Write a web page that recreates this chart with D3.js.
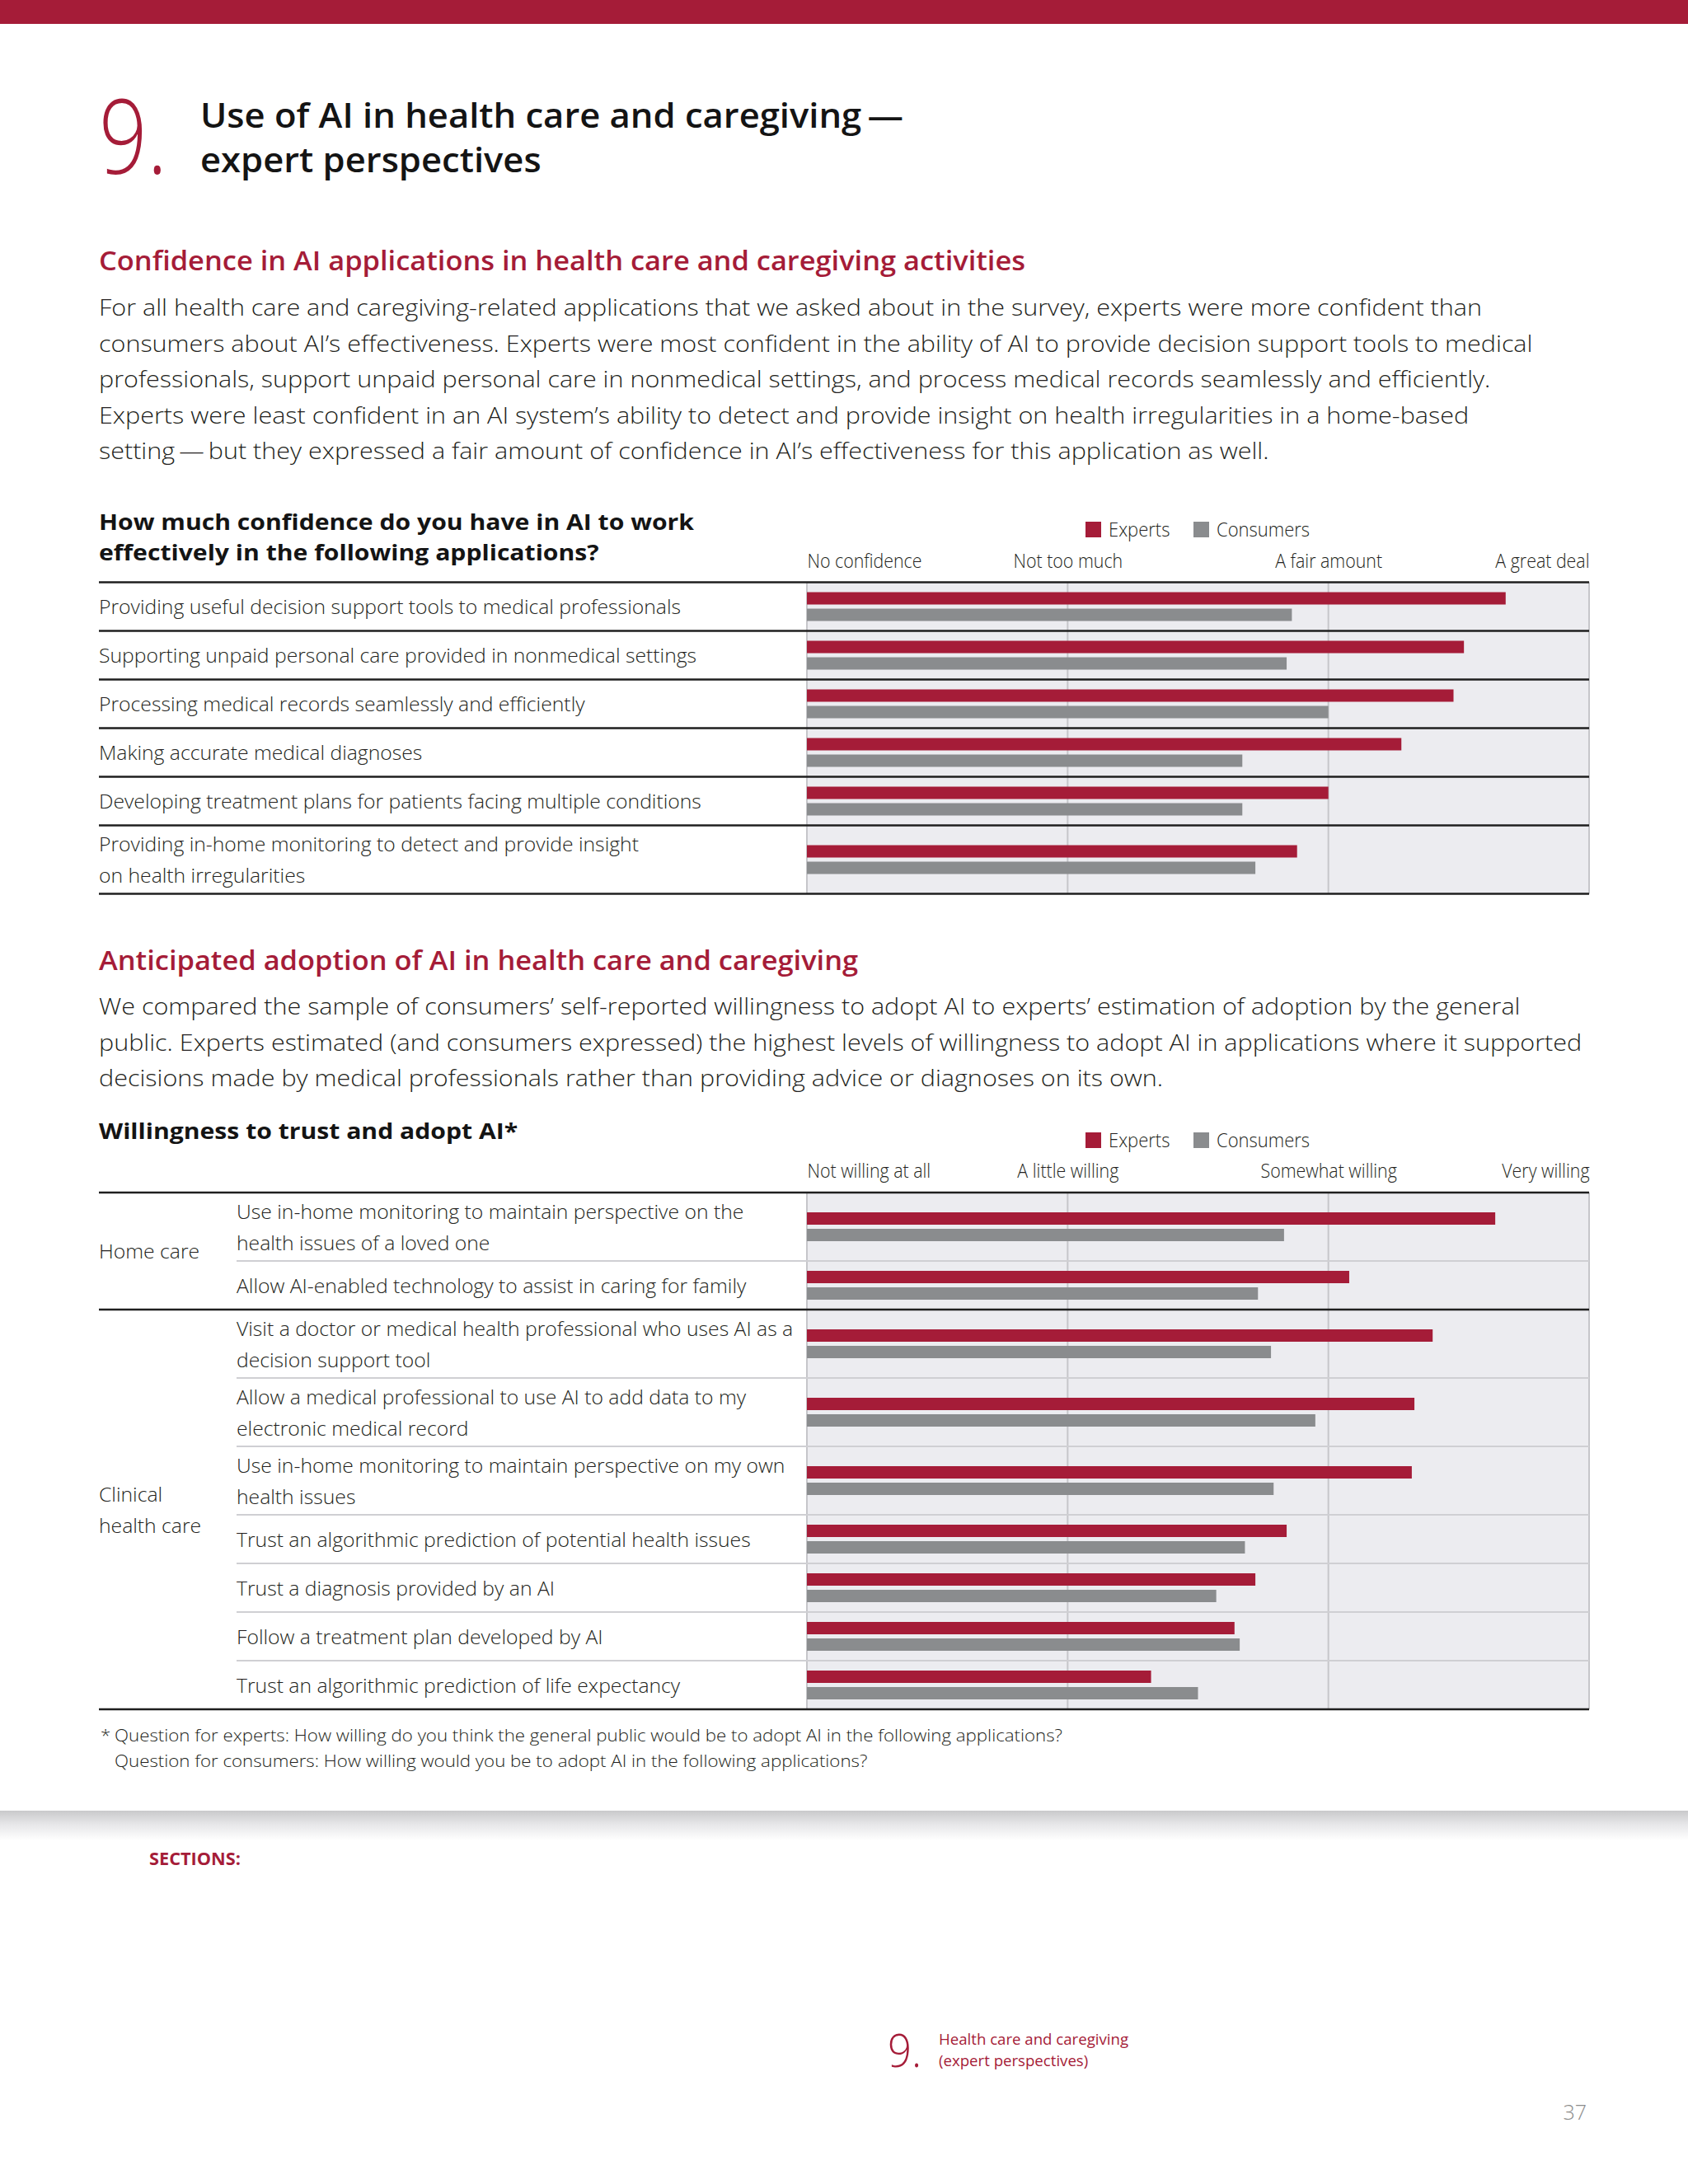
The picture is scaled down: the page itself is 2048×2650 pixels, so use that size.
<!DOCTYPE html>
<html>
<head>
<meta charset="utf-8">
<script src="https://cdn.jsdelivr.net/npm/d3@7"></script>
<style>
  body { margin: 0; background: #fff; }
</style>
</head>
<body>
<svg id="page"></svg>
<script>
// ---- data ----
const seriesNames = ["Experts", "Consumers"];

const confidenceApps = [
  "Providing useful decision support tools to medical professionals",
  "Supporting unpaid personal care provided in nonmedical settings",
  "Processing medical records seamlessly and efficiently",
  "Making accurate medical diagnoses",
  "Developing treatment plans for patients facing multiple conditions",
  "Providing in-home monitoring to detect and provide insight\non health irregularities"
];
// 0 = No confidence ... 3 = A great deal
const confidenceExperts   = [2.68, 2.52, 2.48, 2.28, 2.00, 1.88];
const confidenceConsumers = [1.86, 1.84, 2.00, 1.67, 1.67, 1.72];
const confidenceTicks = ["No confidence", "Not too much", "A fair amount", "A great deal"];

const adoptGroups = ["Home care", "Clinical\nhealth care"];
const adoptGroupOf = [0, 0, 1, 1, 1, 1, 1, 1, 1];
const adoptApps = [
  "Use in-home monitoring to maintain perspective on the\nhealth issues of a loved one",
  "Allow AI-enabled technology to assist in caring for family",
  "Visit a doctor or medical health professional who uses AI as a\ndecision support tool",
  "Allow a medical professional to use AI to add data to my\nelectronic medical record",
  "Use in-home monitoring to maintain perspective on my own\nhealth issues",
  "Trust an algorithmic prediction of potential health issues",
  "Trust a diagnosis provided by an AI",
  "Follow a treatment plan developed by AI",
  "Trust an algorithmic prediction of life expectancy"
];
// 0 = Not willing at all ... 3 = Very willing
const adoptExperts   = [2.64, 2.08, 2.40, 2.33, 2.32, 1.84, 1.72, 1.64, 1.32];
const adoptConsumers = [1.83, 1.73, 1.78, 1.95, 1.79, 1.68, 1.57, 1.66, 1.50];
const adoptTicks = ["Not willing at all", "A little willing", "Somewhat willing", "Very willing"];

const titleLines = ["Use of AI in health care and caregiving\u2009\u2014", "expert perspectives"];
const headingConfidence = "Confidence in AI applications in health care and caregiving activities";
const para1 = [
  "For all health care and caregiving-related applications that we asked about in the survey, experts were more confident than",
  "consumers about AI\u2019s effectiveness. Experts were most confident in the ability of AI to provide decision support tools to medical",
  "professionals, support unpaid personal care in nonmedical settings, and process medical records seamlessly and efficiently.",
  "Experts were least confident in an AI system\u2019s ability to detect and provide insight on health irregularities in a home-based",
  "setting\u2009\u2014\u2009but they expressed a fair amount of confidence in AI\u2019s effectiveness for this application as well."
];
const chart1Title = ["How much confidence do you have in AI to work", "effectively in the following applications?"];
const headingAdoption = "Anticipated adoption of AI in health care and caregiving";
const para2 = [
  "We compared the sample of consumers\u2019 self-reported willingness to adopt AI to experts\u2019 estimation of adoption by the general",
  "public. Experts estimated (and consumers expressed) the highest levels of willingness to adopt AI in applications where it supported",
  "decisions made by medical professionals rather than providing advice or diagnoses on its own."
];
const chart2Title = "Willingness to trust and adopt AI*";
const notes = [
  "Question for experts: How willing do you think the general public would be to adopt AI in the following applications?",
  "Question for consumers: How willing would you be to adopt AI in the following applications?"
];

// ---- page setup ----
const W = 2048, H = 2650;
const RED = "#a51c38", GREY = "#8a8c8e", BG = "#ececf0";
const FAMILY = "'Open Sans', 'Noto Sans', 'DejaVu Sans', sans-serif";

const svg = d3.select("#page").attr("width", W).attr("height", H);
svg.append("rect").attr("width", W).attr("height", H).attr("fill", "#fff");

// text styles; calib = [sample string, width it takes on the page]
const styles = {
  bigNum:   { size: 126, weight: 300, fill: RED, calib: ["9.", 83] },
  title:    { size: 42, weight: 600, fill: "#141414", calib: [titleLines[0], 853] },
  heading:  { size: 33, weight: 600, fill: RED, calib: [headingConfidence, 1124] },
  body:     { size: 27, weight: 300, fill: "#231f20", calib: [para1[0], 1678] },
  ctitle:   { size: 27, weight: 700, fill: "#141414", calib: [chart1Title[0], 722] },
  label:    { size: 24.5, weight: 300, fill: "#231f20", calib: [confidenceApps[0], 706] },
  tick:     { size: 23, weight: 300, fill: "#231f20", calib: ["No confidence", 139] },
  legend:   { size: 23, weight: 300, fill: "#231f20", calib: ["Consumers", 113] },
  note:     { size: 21, weight: 300, fill: "#231f20", calib: [notes[0], 1150] },
  sections: { size: 22, weight: 700, fill: RED, calib: ["SECTIONS:", 111] },
  footNum:  { size: 56, weight: 300, fill: RED, calib: ["9.", 41] },
  footTxt:  { size: 19, weight: 400, fill: RED, calib: ["Health care and caregiving", 230] },
  page:     { size: 25, weight: 300, fill: "#8c8c8c", calib: null }
};

function font(sel, st) {
  sel.attr("font-family", FAMILY)
    .attr("font-size", st.size)
    .attr("font-weight", st.weight)
    .attr("fill", st.fill);
}

// work out how much each style has to be squeezed to match the print face
Object.values(styles).forEach(st => {
  if (!st.calib) { st.k = 1; return; }
  const t = svg.append("text").call(font, st).text(st.calib[0]);
  st.k = st.calib[1] / t.node().getComputedTextLength();
  t.remove();
});

function squeeze(sel, st) {
  sel.each(function () {
    const w = this.getComputedTextLength();
    d3.select(this).attr("textLength", w * st.k).attr("lengthAdjust", "spacingAndGlyphs");
  });
}

function put(parent, x, y, s, st, anchor) {
  const t = parent.append("text")
    .attr("x", x).attr("y", y)
    .attr("text-anchor", anchor || "start")
    .call(font, st)
    .text(s);
  squeeze(t, st);
  return t;
}

// ---- header ----
svg.append("rect").attr("x", 0).attr("y", 0).attr("width", W).attr("height", 29).attr("fill", RED);
put(svg, 120, 211, "9.", styles.bigNum);
put(svg, 243, 155, titleLines[0], styles.title);
put(svg, 243, 209, titleLines[1], styles.title);

put(svg, 120, 328, headingConfidence, styles.heading);
para1.forEach((l, i) => put(svg, 120, 383 + i * 43.5, l, styles.body));

put(svg, 120, 643, chart1Title[0], styles.ctitle);
put(svg, 120, 680, chart1Title[1], styles.ctitle);

put(svg, 120, 1177, headingAdoption, styles.heading);
para2.forEach((l, i) => put(svg, 120, 1231 + i * 43.5, l, styles.body));

put(svg, 120, 1382, chart2Title, styles.ctitle);

// ---- charts ----
const x = d3.scaleLinear().domain([0, 3]).range([979, 1928]);
const barBand = d3.scaleBand().domain(seriesNames).range([-17.5, 17.5]).paddingInner(0.25);
const color = d3.scaleOrdinal().domain(seriesNames).range([RED, GREY]);
const LEFT = 120, RIGHT = 1928;
const LINE_H = 38;

function drawChart(cfg) {
  const g = svg.append("g");
  const rows = cfg.labels.map(l => l.split("\n"));
  const heights = rows.map(r => (r.length > 1 ? 83 : 59));
  const edges = [cfg.top, ...d3.cumsum(heights).map(v => v + cfg.top)];
  const bottom = edges[edges.length - 1];

  // legend
  const leg = g.append("g");
  seriesNames.forEach((s, i) => {
    const lx = [1317, 1448][i];
    leg.append("rect").attr("x", lx).attr("y", cfg.legendY - 9.5)
      .attr("width", 19).attr("height", 19).attr("fill", color(s));
    put(leg, lx + 28, cfg.legendY + 8, s, styles.legend);
  });

  // scale labels along the top
  const ax = g.append("g")
    .attr("transform", `translate(0,${cfg.tickY})`)
    .call(d3.axisTop(x).tickValues([0, 1, 2, 3]).tickFormat(d => cfg.ticks[d]).tickSize(0).tickPadding(0));
  ax.select(".domain").remove();
  ax.selectAll("text")
    .attr("dy", null)
    .attr("text-anchor", d => (d === 0 ? "start" : d === 3 ? "end" : "middle"))
    .call(font, styles.tick)
    .call(squeeze, styles.tick);

  // plot background and grid
  g.append("rect").attr("x", x(0)).attr("y", cfg.top)
    .attr("width", x(3) - x(0)).attr("height", bottom - cfg.top).attr("fill", BG);
  g.append("g").selectAll("line").data([0, 1, 2, 3]).join("line")
    .attr("x1", d => x(d)).attr("x2", d => x(d))
    .attr("y1", cfg.top).attr("y2", bottom)
    .attr("stroke", "#c6c6ca").attr("stroke-width", 2);

  // row separators
  edges.forEach((y, i) => {
    const outer = i === 0 || i === edges.length - 1;
    const groupBreak = cfg.groupOf && !outer && cfg.groupOf[i] !== cfg.groupOf[i - 1];
    const dark = !cfg.groupOf || outer || groupBreak;
    g.append("line")
      .attr("x1", dark ? LEFT : cfg.labelX).attr("x2", RIGHT)
      .attr("y1", y).attr("y2", y)
      .attr("stroke", dark ? "#1f1f1f" : "#cfcfd3")
      .attr("stroke-width", dark ? 2.5 : 2);
  });

  // bars
  const rowData = rows.map((r, i) => ({
    i, lines: r, c: (edges[i] + edges[i + 1]) / 2,
    vals: [cfg.experts[i], cfg.consumers[i]]
  }));
  const rg = g.append("g").selectAll("g").data(rowData).join("g")
    .attr("transform", d => `translate(0,${d.c})`);
  rg.selectAll("rect").data(d => seriesNames.map((s, j) => ({ s, v: d.vals[j] }))).join("rect")
    .attr("x", x(0))
    .attr("y", d => barBand(d.s))
    .attr("width", d => x(d.v) - x(0))
    .attr("height", barBand.bandwidth())
    .attr("fill", d => color(d.s));

  // row labels
  rowData.forEach(d => {
    d.lines.forEach((l, j) => {
      const y = d.c + (j - (d.lines.length - 1) / 2) * LINE_H + 9;
      put(g, cfg.labelX, y, l, styles.label);
    });
  });

  // group labels
  if (cfg.groupOf) {
    cfg.groups.forEach((name, gi) => {
      const idx = d3.range(rows.length).filter(i => cfg.groupOf[i] === gi);
      const c = (edges[idx[0]] + edges[idx[idx.length - 1] + 1]) / 2;
      const lines = name.split("\n");
      lines.forEach((l, j) => {
        put(g, LEFT, c + (j - (lines.length - 1) / 2) * LINE_H + 9, l, styles.label);
      });
    });
  }
}

drawChart({
  top: 706.5, labels: confidenceApps, experts: confidenceExperts, consumers: confidenceConsumers,
  ticks: confidenceTicks, legendY: 642.5, tickY: 689, labelX: LEFT
});

drawChart({
  top: 1447, labels: adoptApps, experts: adoptExperts, consumers: adoptConsumers,
  ticks: adoptTicks, legendY: 1383.5, tickY: 1429, labelX: 287,
  groups: adoptGroups, groupOf: adoptGroupOf
});

// footnote
put(svg, 122, 2113, "*", styles.note);
put(svg, 139, 2113, notes[0], styles.note);
put(svg, 139, 2144, notes[1], styles.note);

// ---- footer ----
const grad = svg.append("defs").append("linearGradient")
  .attr("id", "shade").attr("x1", 0).attr("x2", 0).attr("y1", 0).attr("y2", 1);
grad.append("stop").attr("offset", 0).attr("stop-color", "#c9c9cb");
grad.append("stop").attr("offset", 0.45).attr("stop-color", "#e6e6e8");
grad.append("stop").attr("offset", 1).attr("stop-color", "#ffffff");
svg.append("rect").attr("x", 0).attr("y", 2197).attr("width", W).attr("height", 36).attr("fill", "url(#shade)");

put(svg, 181, 2263, "SECTIONS:", styles.sections);
put(svg, 1077, 2508, "9.", styles.footNum);
put(svg, 1139, 2481, "Health care and caregiving", styles.footTxt);
put(svg, 1139, 2507, "(expert perspectives)", styles.footTxt);
put(svg, 1925, 2572, "37", styles.page, "end");
</script>
</body>
</html>
